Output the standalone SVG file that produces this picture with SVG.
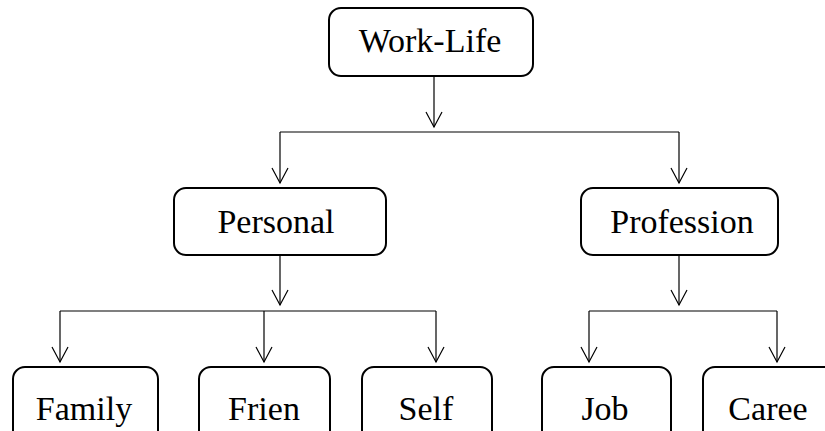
<svg xmlns="http://www.w3.org/2000/svg" width="825" height="431" viewBox="0 0 825 431">
  <style>
    .box { fill: #ffffff; stroke: #000000; stroke-width: 2; }
    .lbl { font-family: "Liberation Serif", "Times New Roman", serif; font-size: 34px; fill: #000000; text-anchor: middle; }
    .conn { fill: none; stroke: #000000; stroke-width: 1.2; }
    .arr { fill: none; stroke: #000000; stroke-width: 1.2; marker-end: url(#vhead); }
  </style>
  <defs>
    <marker id="vhead" markerUnits="userSpaceOnUse" viewBox="-17 -10 19 20" refX="0" refY="0" markerWidth="19" markerHeight="20" orient="auto">
      <path d="M -15 -8 L 0 0 L -15 8" fill="none" stroke="#000000" stroke-width="1.2"/>
    </marker>
  </defs>
  <rect width="825" height="431" fill="#ffffff"/>

  <g id="connectors">
    <path class="arr" d="M434 76 V127"/>
    <path class="conn" d="M280 132 H679"/>
    <path class="arr" d="M280 132 V183"/>
    <path class="arr" d="M679 132 V183"/>

    <path class="arr" d="M280 255 V305"/>
    <path class="conn" d="M60 311 H436"/>
    <path class="arr" d="M60 311 V362"/>
    <path class="arr" d="M264 311 V362"/>
    <path class="arr" d="M436 311 V362"/>

    <path class="arr" d="M679 255 V305"/>
    <path class="conn" d="M589 311 H777"/>
    <path class="arr" d="M589 311 V362"/>
    <path class="arr" d="M777 311 V362"/>
  </g>

  <g id="work-life">
    <rect class="box" x="329" y="8" width="204" height="68" rx="12"/>
    <text class="lbl" x="430" y="52">Work-Life</text>
  </g>
  <g id="personal">
    <rect class="box" x="174" y="188" width="212" height="67" rx="12"/>
    <text class="lbl" x="276" y="233">Personal</text>
  </g>
  <g id="profession">
    <rect class="box" x="581" y="188" width="197" height="67" rx="12"/>
    <text class="lbl" x="682" y="233">Profession</text>
  </g>
  <g id="family">
    <rect class="box" x="13" y="367" width="145" height="80" rx="12"/>
    <text class="lbl" x="84" y="420">Family</text>
  </g>
  <g id="frien">
    <rect class="box" x="199" y="367" width="131" height="80" rx="12"/>
    <text class="lbl" x="264" y="420">Frien</text>
  </g>
  <g id="self">
    <rect class="box" x="362" y="367" width="130" height="80" rx="12"/>
    <text class="lbl" x="426" y="420">Self</text>
  </g>
  <g id="job">
    <rect class="box" x="542" y="367" width="129" height="80" rx="12"/>
    <text class="lbl" x="605" y="420">Job</text>
  </g>
  <g id="caree">
    <rect class="box" x="703" y="367" width="140" height="80" rx="12"/>
    <text class="lbl" x="768" y="420">Caree</text>
  </g>
</svg>
